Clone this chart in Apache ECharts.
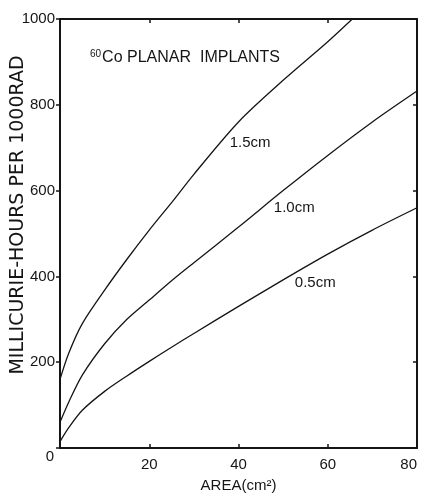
<!DOCTYPE html>
<html>
<head>
<meta charset="utf-8">
<script src="https://cdn.jsdelivr.net/npm/echarts@6/dist/echarts.min.js"></script>
<style>
  html, body { margin: 0; padding: 0; background: #fff; }
  #chart { width: 422px; height: 493px; }
</style>
</head>
<body>
<div id="chart"></div>
<script>
// area (cm^2) values
const area = [0, 2, 5, 10, 15, 20, 25, 30, 40, 50, 60, 70, 80];
const area15 = [0, 2, 5, 10, 15, 20, 25, 30, 40, 50, 60, 65.5];
const curve15 = [160, 222, 290, 368, 440, 508, 572, 638, 760, 857, 947, 1000];
const curve10 = [60, 108, 170, 243, 300, 345, 390, 432, 515, 600, 682, 760, 832];
const curve05 = [15, 48, 88, 132, 168, 202, 235, 267, 330, 392, 452, 508, 560];

const xTicks = [0, 20, 40, 60, 80];
const yTicks = [0, 200, 400, 600, 800, 1000];

// where the curve names sit
const curveNames = ['1.5cm', '1.0cm', '0.5cm'];
const nameAt = [[42.6, 711], [52.5, 559], [57.2, 385]];

const font = 'Liberation Sans, Arial, sans-serif';
const ink = '#151515';

function pairs(xs, ys) {
  return ys.map((y, i) => [xs[i], y]);
}

const myChart = echarts.init(document.getElementById('chart'));

const curves = [pairs(area15, curve15), pairs(area, curve10), pairs(area, curve05)];

const series = curves.map((data, i) => ({
  type: 'line',
  xAxisIndex: 0,
  yAxisIndex: 0,
  data: data,
  smooth: 0.3,
  showSymbol: false,
  silent: true,
  lineStyle: { color: ink, width: 1.3 },
  markPoint: {
    symbol: 'circle',
    symbolSize: 0,
    silent: true,
    label: {
      show: true,
      position: 'inside',
      formatter: curveNames[i],
      color: ink,
      fontFamily: font,
      fontSize: 15
    },
    data: [{ coord: nameAt[i] }]
  }
}));

const frameLine = { show: true, onZero: false, lineStyle: { color: ink, width: 2 } };

const option = {
  animation: false,
  grid: { left: 60, right: 5, top: 19, bottom: 45, outerBoundsMode: 'none', containLabel: false },
  xAxis: [
    {
      type: 'value', position: 'bottom', min: 0, max: 80, interval: 20,
      axisLine: frameLine,
      axisTick: { inside: true, length: 4, lineStyle: { color: ink, width: 1.5 } },
      axisLabel: {
        margin: 9, color: ink, fontFamily: font, fontSize: 15,
        alignMaxLabel: 'right',
        formatter: v => (xTicks.includes(v) && v !== 0 ? String(v) : '')
      },
      splitLine: { show: false },
      name: 'AREA(cm²)', nameLocation: 'middle', nameGap: 30,
      nameTextStyle: { color: ink, fontFamily: font, fontSize: 15 }
    },
    {
      type: 'value', position: 'top', min: 0, max: 80, interval: 20,
      axisLine: frameLine,
      axisTick: { inside: true, length: 4, lineStyle: { color: ink, width: 1.5 } },
      axisLabel: { show: false },
      splitLine: { show: false }
    }
  ],
  yAxis: [
    {
      type: 'value', position: 'left', min: 0, max: 1000, interval: 200,
      axisLine: frameLine,
      axisTick: { show: true, length: 4, lineStyle: { color: ink, width: 1.5 } },
      axisLabel: {
        margin: 5, color: ink, fontFamily: font, fontSize: 15,
        formatter: v => (yTicks.includes(v) && v !== 0 ? String(v) : '')
      },
      splitLine: { show: false }
    },
    {
      type: 'value', position: 'right', min: 0, max: 1000, interval: 200,
      axisLine: frameLine,
      axisTick: { show: true, inside: true, length: 4, lineStyle: { color: ink, width: 1.5 } },
      axisLabel: { show: false },
      splitLine: { show: false }
    }
  ],
  title: {
    left: 85, top: 44,
    text: '{sup|60}{main|Co PLANAR  IMPLANTS}',
    textStyle: {
      fontWeight: 'normal',
      rich: {
        sup: { fontFamily: font, fontSize: 10, fontWeight: 'normal', color: ink, verticalAlign: 'top', padding: [0, 1, 8, 0] },
        main: { fontFamily: font, fontSize: 16, fontWeight: 'normal', color: ink }
      }
    }
  },
  graphic: [
    {
      type: 'text', x: 18, y: 215, rotation: Math.PI / 2,
      style: {
        text: 'MILLICURIE-HOURS PER 1000RAD',
        fill: ink, font: '19px DejaVu Sans, sans-serif',
        align: 'center', verticalAlign: 'middle'
      }
    },
    {
      type: 'text', x: 50, y: 457,
      style: {
        text: '0', fill: ink, font: '15px ' + font,
        align: 'center', verticalAlign: 'middle'
      }
    }
  ],
  series: series
};

myChart.setOption(option);
</script>
</body>
</html>
